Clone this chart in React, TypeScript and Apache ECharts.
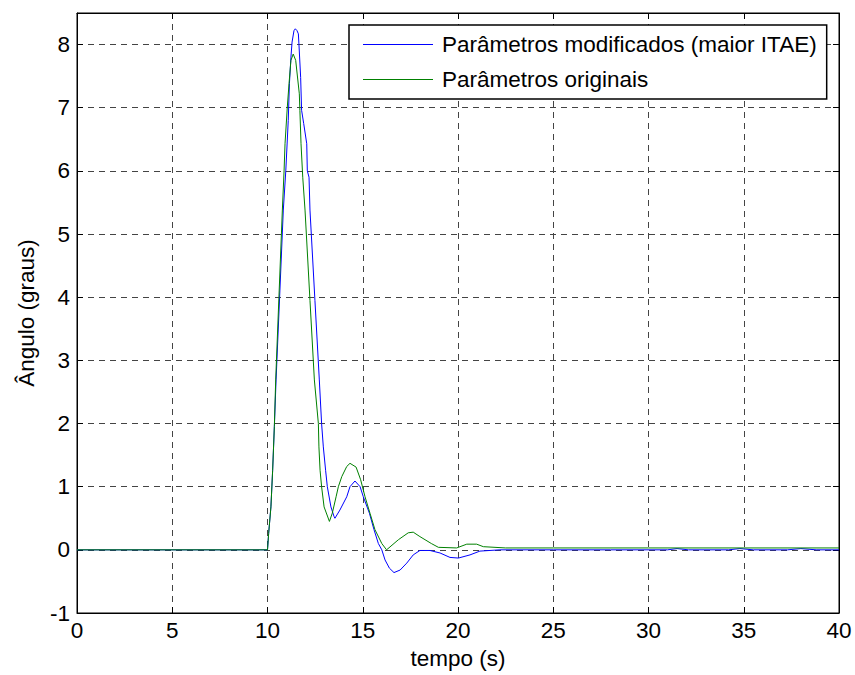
import React, { useEffect, useRef } from "react";
import * as echarts from "echarts";

// Time stamps (s) and angle values (graus) for each response
const tempoModificado = [
  0, 10.0, 10.06, 10.18, 10.27, 10.36, 10.45, 10.65, 10.83, 10.96, 11.09, 11.15, 11.23, 11.29,
  11.39, 11.46, 11.55, 11.62, 11.65, 11.74, 11.79, 11.9, 12.06, 12.09, 12.18, 12.23, 12.49, 12.72,
  12.84, 12.93, 13.05, 13.14, 13.33, 13.49, 13.54, 13.8, 14.16, 14.33, 14.59, 14.86, 15.03, 15.35,
  15.59, 15.82, 16.0, 16.17, 16.4, 16.64, 16.96, 17.31, 17.65, 18.0, 18.53, 19.06, 19.58, 20.02,
  20.63, 21.15, 22.2, 25, 28, 31.0, 31.5, 32.1, 34.2, 34.8, 35.5, 37.3, 38.0, 38.8, 40,
];
const anguloModificado = [
  0, 0, 0.26, 0.68, 1.26, 1.95, 2.69, 4.1, 5.38, 6.0, 6.8, 7.38, 7.8, 8.04,
  8.22, 8.25, 8.22, 8.17, 8.01, 7.48, 6.96, 6.75, 6.43, 6.0, 5.9, 5.38, 3.95, 2.69,
  2.0, 1.63, 1.26, 1.0, 0.68, 0.53, 0.5, 0.63, 0.84, 1.0, 1.09, 1.0, 0.84, 0.58,
  0.32, 0.1, 0.0, -0.16, -0.29, -0.36, -0.32, -0.21, -0.08, -0.01, -0.01, -0.05, -0.12, -0.13,
  -0.08, -0.02, 0.0, 0.0, 0.0, 0.0, 0.02, 0.0, 0.0, 0.02, 0.0, 0.0, 0.02, 0.0, 0.0,
];

const tempoOriginal = [
  0, 10.0, 10.06, 10.18, 10.27, 10.36, 10.43, 10.6, 10.78, 10.87, 10.92, 11.04, 11.13, 11.23,
  11.35, 11.48, 11.67, 11.7, 11.76, 11.85, 11.97, 12.23, 12.46, 12.67, 12.7, 12.76, 12.84, 12.97,
  13.25, 13.4, 13.6, 13.72, 13.9, 14.16, 14.33, 14.65, 14.89, 15.12, 15.38, 15.64, 16.0, 16.25,
  16.87, 17.39, 17.65, 18.0, 18.6, 18.97, 19.93, 20.46, 20.98, 21.33, 22.5, 25, 30, 35, 40,
];
const anguloOriginal = [
  0, 0, 0.26, 0.68, 1.26, 1.95, 2.69, 4.0, 5.38, 6.0, 6.43, 7.01, 7.38, 7.75,
  7.85, 7.75, 7.22, 6.96, 6.43, 5.9, 5.38, 3.95, 2.69, 2.0, 1.63, 1.26, 1.0, 0.68,
  0.45, 0.58, 0.84, 1.0, 1.16, 1.32, 1.37, 1.31, 1.11, 0.84, 0.58, 0.32, 0.1, 0.0,
  0.16, 0.27, 0.28, 0.21, 0.1, 0.04, 0.03, 0.09, 0.09, 0.05, 0.03, 0.03, 0.03, 0.03, 0.03,
];

const nomeModificado = "Parâmetros modificados (maior ITAE)";
const nomeOriginal = "Parâmetros originais";

const FONT = "'Liberation Sans', Arial, Helvetica, sans-serif";

const pares = (t: number[], v: number[]) => t.map((x, i) => [x, v[i]]);

export default function App() {
  const ref = useRef<HTMLDivElement>(null);

  useEffect(() => {
    if (!ref.current) return;
    const chart = echarts.init(ref.current, undefined, { renderer: "svg" });

    const grade = {
      show: true,
      lineStyle: { color: "#444", type: [6, 5] as any, width: 1 },
    };
    const tickInside = { show: true, inside: true, length: 6, lineStyle: { color: "#000" } };
    const eixo = { show: true, onZero: false, lineStyle: { color: "#000", width: 1 } };
    const label = { color: "#000", fontFamily: FONT, fontSize: 22.5 };

    chart.setOption({
      animation: false,
      backgroundColor: "#fff",
      textStyle: { fontFamily: FONT },
      grid: {
        left: 77,
        top: 13,
        width: 762,
        height: 600,
        show: true,
        borderColor: "#000",
        borderWidth: 1,
        backgroundColor: "#fff",
      },
      xAxis: [
        {
          type: "value",
          min: 0,
          max: 40,
          interval: 5,
          position: "bottom",
          axisLine: eixo,
          axisTick: tickInside,
          splitLine: grade,
          axisLabel: { ...label, margin: 6 },
          name: "tempo (s)",
          nameLocation: "middle",
          nameGap: 34,
          nameTextStyle: { ...label },
        },
        {
          type: "value",
          min: 0,
          max: 40,
          interval: 5,
          position: "top",
          axisLine: eixo,
          axisTick: tickInside,
          splitLine: { show: false },
          axisLabel: { show: false },
        },
      ],
      yAxis: [
        {
          type: "value",
          min: -1,
          max: 8.5,
          interval: 1,
          position: "left",
          axisLine: eixo,
          axisTick: tickInside,
          splitLine: grade,
          axisLabel: { ...label, margin: 7, showMaxLabel: false },
          name: "Ângulo (graus)",
          nameLocation: "middle",
          nameGap: 39,
          nameRotate: 90,
          nameTextStyle: { ...label },
        },
        {
          type: "value",
          min: -1,
          max: 8.5,
          interval: 1,
          position: "right",
          axisLine: eixo,
          axisTick: tickInside,
          splitLine: { show: false },
          axisLabel: { show: false },
        },
      ],
      legend: {
        left: 349,
        top: 25,
        orient: "vertical",
        backgroundColor: "#fff",
        borderColor: "#000",
        borderWidth: 1.5,
        borderRadius: 0,
        padding: [8, 10, 8, 14],
        icon: "rect",
        itemWidth: 70,
        itemHeight: 1.2,
        itemGap: 12,
        textStyle: { ...label, padding: [0, 0, 0, 4] },
        data: [nomeModificado, nomeOriginal],
      },
      series: [
        {
          name: nomeModificado,
          type: "line",
          symbol: "none",
          data: pares(tempoModificado, anguloModificado),
          lineStyle: { color: "#0000ff", width: 1 },
          itemStyle: { color: "#0000ff" },
          z: 3,
        },
        {
          name: nomeOriginal,
          type: "line",
          symbol: "none",
          data: pares(tempoOriginal, anguloOriginal),
          lineStyle: { color: "#008000", width: 1 },
          itemStyle: { color: "#008000" },
          z: 4,
        },
      ],
    });

    return () => chart.dispose();
  }, []);

  return (
    <div
      ref={ref}
      style={{ position: "fixed", left: 0, top: 0, width: 855, height: 675, background: "#fff" }}
    />
  );
}
